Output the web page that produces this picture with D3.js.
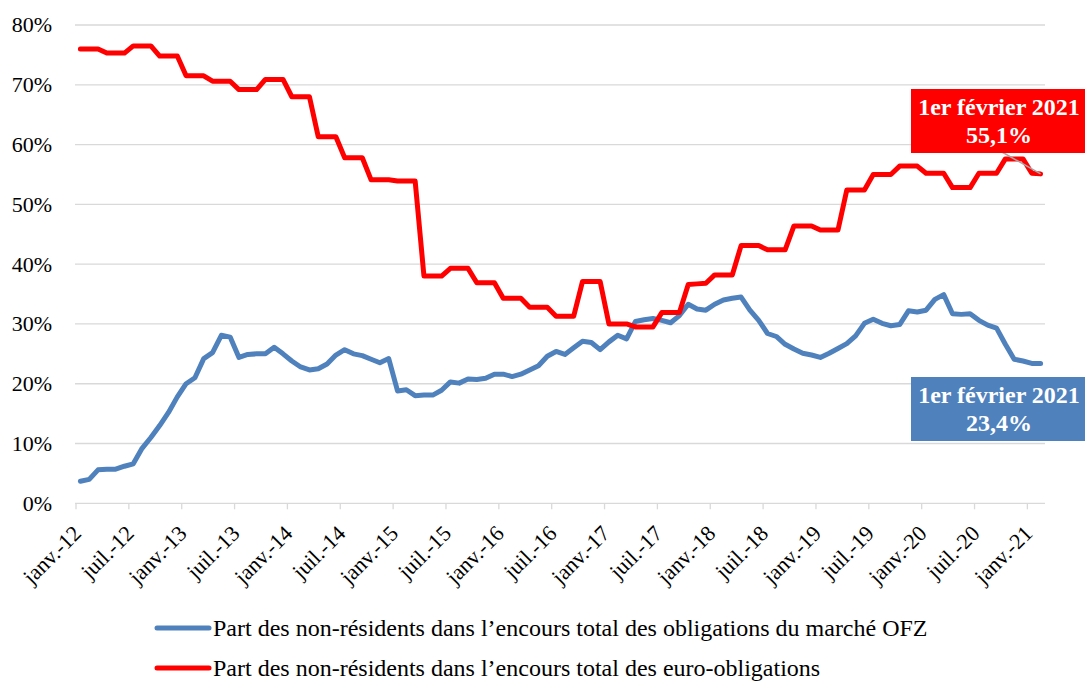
<!DOCTYPE html>
<html>
<head>
<meta charset="utf-8">
<script src="https://cdn.jsdelivr.net/npm/d3@7"></script>
<style>
  body { margin: 0; background: #fff; }
  text { font-family: "Liberation Serif", "Times New Roman", serif; }
</style>
</head>
<body>
<script>
// tick labels every 6 months, Jan 2012 .. Jan 2021
const tickLabels = ["janv.-12","juil.-12","janv.-13","juil.-13","janv.-14","juil.-14","janv.-15","juil.-15",
  "janv.-16","juil.-16","janv.-17","juil.-17","janv.-18","juil.-18","janv.-19","juil.-19","janv.-20","juil.-20","janv.-21"];

// monthly values, Jan 2012 .. Feb 2021 (%)
const ofzShare = [
  3.7, 4.0, 5.6, 5.7, 5.7, 6.2, 6.6, 9.2, 11.0, 13.0,
  15.2, 17.8, 20.0, 21.0, 24.2, 25.2, 28.1, 27.8, 24.4, 24.9,
  25.0, 25.0, 26.1, 25.0, 23.8, 22.8, 22.3, 22.5, 23.3, 24.8,
  25.7, 25.0, 24.7, 24.1, 23.5, 24.2, 18.8, 19.0, 18.0, 18.1,
  18.1, 18.9, 20.3, 20.1, 20.8, 20.7, 20.9, 21.6, 21.6, 21.2,
  21.6, 22.3, 23.0, 24.6, 25.4, 24.9, 26.0, 27.1, 26.9, 25.7,
  27.0, 28.1, 27.5, 30.4, 30.7, 30.9, 30.6, 30.2, 31.4, 33.3,
  32.5, 32.3, 33.3, 34.0, 34.3, 34.5, 32.3, 30.6, 28.4, 27.9,
  26.6, 25.8, 25.1, 24.8, 24.4, 25.1, 25.9, 26.7, 28.0, 30.1,
  30.8, 30.1, 29.7, 29.9, 32.2, 32.0, 32.3, 34.1, 34.9, 31.7,
  31.6, 31.7, 30.6, 29.8, 29.3, 26.6, 24.1, 23.8, 23.4, 23.4
];

const euroShare = [
  76.0, 76.0, 76.0, 75.3, 75.3, 75.3, 76.5, 76.5, 76.5, 74.8,
  74.8, 74.8, 71.5, 71.5, 71.5, 70.6, 70.6, 70.6, 69.2, 69.2,
  69.2, 70.9, 70.9, 70.9, 68.0, 68.0, 68.0, 61.3, 61.3, 61.3,
  57.8, 57.8, 57.8, 54.1, 54.1, 54.1, 53.9, 53.9, 53.9, 38.0,
  38.0, 38.0, 39.3, 39.3, 39.3, 36.9, 36.9, 36.9, 34.3, 34.3,
  34.3, 32.8, 32.8, 32.8, 31.3, 31.3, 31.3, 37.1, 37.1, 37.1,
  30.0, 30.0, 30.0, 29.5, 29.5, 29.5, 31.9, 31.9, 31.9, 36.6,
  36.7, 36.8, 38.2, 38.2, 38.2, 43.1, 43.1, 43.1, 42.4, 42.4,
  42.4, 46.4, 46.4, 46.4, 45.7, 45.7, 45.7, 52.4, 52.4, 52.4,
  55.0, 55.0, 55.0, 56.4, 56.4, 56.4, 55.2, 55.2, 55.2, 52.8,
  52.8, 52.8, 55.2, 55.2, 55.2, 57.6, 57.6, 57.6, 55.2, 55.1
];

const yTicks = [0, 10, 20, 30, 40, 50, 60, 70, 80];
const legendLabels = [
  "Part des non-résidents dans l’encours total des obligations du marché OFZ",
  "Part des non-résidents dans l’encours total des euro-obligations"
];
const endLabels = ["1er février 2021", "55,1%", "23,4%"];

const W = 1085, H = 682;
const BLUE = "#4f81bd", RED = "#ff0000", GRID = "#d9d9d9";
const AXIS_FONT = 22, BIG_FONT = 24;

const svg = d3.select("body").append("svg")
  .attr("width", W).attr("height", H);
svg.append("rect").attr("width", W).attr("height", H).attr("fill", "#fff");

// month index scale (0 = start of Jan 2012, 110 = start of Mar 2021)
const x = d3.scaleLinear().domain([0, 110]).range([76, 1045]);
const y = d3.scaleLinear().domain([0, 80]).range([503.3, 25]);

// gridlines
svg.append("g").selectAll("line")
  .data(yTicks.slice(1))
  .join("line")
  .attr("x1", 75).attr("x2", 1045)
  .attr("y1", d => y(d)).attr("y2", d => y(d))
  .attr("stroke", GRID).attr("stroke-width", 1.3);

// y labels
svg.append("g").selectAll("text")
  .data(yTicks)
  .join("text")
  .attr("x", 52).attr("y", d => y(d))
  .attr("dy", "0.34em")
  .attr("text-anchor", "end")
  .attr("font-size", AXIS_FONT)
  .attr("fill", "#000")
  .text(d => d + "%");

// x axis
const xAxis = svg.append("g");
xAxis.append("line")
  .attr("x1", 75).attr("x2", 1045)
  .attr("y1", y(0)).attr("y2", y(0))
  .attr("stroke", GRID).attr("stroke-width", 1.3);
xAxis.selectAll("line.tick")
  .data(tickLabels)
  .join("line")
  .attr("class", "tick")
  .attr("x1", (d, i) => x(i * 6)).attr("x2", (d, i) => x(i * 6))
  .attr("y1", y(0)).attr("y2", y(0) + 6)
  .attr("stroke", GRID).attr("stroke-width", 1.3);
xAxis.selectAll("text")
  .data(tickLabels)
  .join("text")
  .attr("transform", (d, i) => `translate(${x(i * 6) + 1},${y(0) + 26}) rotate(-45)`)
  .attr("text-anchor", "end")
  .attr("dy", "0.35em")
  .attr("font-size", AXIS_FONT)
  .attr("fill", "#000")
  .text(d => d);

// lines
const line = d3.line()
  .x((d, i) => x(i + 0.5))
  .y(d => y(d));

svg.append("path").datum(ofzShare)
  .attr("d", line)
  .attr("fill", "none").attr("stroke", BLUE).attr("stroke-width", 5)
  .attr("stroke-linejoin", "round").attr("stroke-linecap", "round");

svg.append("path").datum(euroShare)
  .attr("d", line)
  .attr("fill", "none").attr("stroke", RED).attr("stroke-width", 5)
  .attr("stroke-linejoin", "round").attr("stroke-linecap", "round");

// end-point callouts
const last = ofzShare.length - 1;
const lx = x(last + 0.5);

svg.append("line")
  .attr("x1", 1002).attr("y1", 152)
  .attr("x2", lx).attr("y2", y(euroShare[last]))
  .attr("stroke", "#a6a6a6").attr("stroke-width", 1.5);

function callout(top, fill, value) {
  const g = svg.append("g");
  g.append("rect").attr("x", 911).attr("y", top).attr("width", 174).attr("height", 64).attr("fill", fill);
  g.append("text").attr("x", 999).attr("y", top + 26)
    .attr("text-anchor", "middle").attr("font-size", BIG_FONT).attr("font-weight", "bold")
    .attr("fill", "#fff").text(endLabels[0]);
  g.append("text").attr("x", 999).attr("y", top + 54)
    .attr("text-anchor", "middle").attr("font-size", BIG_FONT).attr("font-weight", "bold")
    .attr("fill", "#fff").text(value);
}
callout(89, RED, endLabels[1]);
callout(377, BLUE, endLabels[2]);

// legend
const legend = svg.append("g");
[BLUE, RED].forEach((c, i) => {
  const ly = 628 + i * 40;
  legend.append("line")
    .attr("x1", 157).attr("x2", 209).attr("y1", ly).attr("y2", ly)
    .attr("stroke", c).attr("stroke-width", 5).attr("stroke-linecap", "round");
  legend.append("text")
    .attr("x", 213).attr("y", ly).attr("dy", "0.33em")
    .attr("font-size", BIG_FONT).attr("fill", "#000")
    .text(legendLabels[i]);
});
</script>
</body>
</html>
